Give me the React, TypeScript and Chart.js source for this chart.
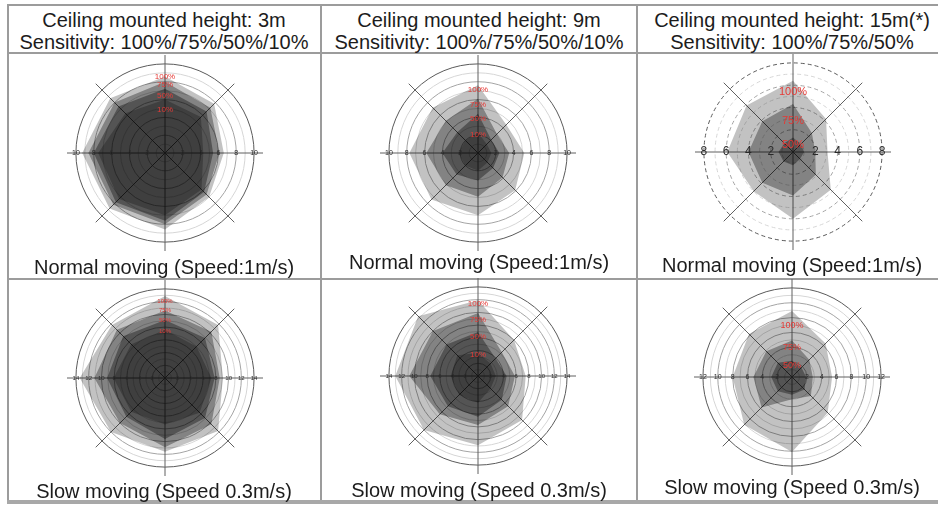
import React, { useEffect, useRef } from "react";
import { Chart, registerables } from "chart.js";

Chart.register(...registerables);

// ---- Data ----
const directions = ["N", "NE", "E", "SE", "S", "SW", "W", "NW"];

const headerHeight = ["Ceiling mounted height: 3m", "Ceiling mounted height: 9m", "Ceiling mounted height: 15m(*)"];
const headerSensitivity = ["Sensitivity: 100%/75%/50%/10%", "Sensitivity: 100%/75%/50%/10%", "Sensitivity: 100%/75%/50%"];
const captionNormal = "Normal moving (Speed:1m/s)";
const captionSlow = "Slow moving (Speed 0.3m/s)";

const sensitivity4 = ["100%", "75%", "50%", "10%"];
const sensitivity3 = ["100%", "75%", "50%"];

const ticks10 = [2, 4, 6, 8, 10];
const ticks8 = [2, 4, 6, 8];
const ticks14 = [2, 4, 6, 8, 10, 12, 14];
const ticks12 = [2, 4, 6, 8, 10, 12];

// 3m, normal moving (m), order N, NE, E, SE, S, SW, W, NW
const normal3m_100 = [8.6, 7.8, 6.6, 7.0, 8.6, 8.8, 9.3, 8.7];
const normal3m_75 = [8.0, 7.2, 6.1, 6.6, 8.0, 8.2, 8.6, 8.0];
const normal3m_50 = [7.2, 6.6, 5.4, 6.2, 7.6, 7.8, 8.0, 7.4];
const normal3m_10 = [6.0, 5.7, 4.3, 5.8, 7.0, 7.3, 7.5, 6.3];
const normal3m_labelAt = [8.6, 7.6, 6.4, 4.9];

// 9m, normal moving
const normal9m_100 = [7.6, 4.5, 5.2, 5.9, 7.0, 7.4, 7.7, 7.2];
const normal9m_75 = [6.1, 3.0, 3.5, 3.9, 4.9, 5.1, 5.8, 5.1];
const normal9m_50 = [4.4, 2.1, 2.4, 2.4, 3.1, 3.4, 4.0, 3.3];
const normal9m_10 = [2.3, 1.4, 1.5, 1.5, 2.0, 2.0, 2.2, 2.0];
const normal9m_labelAt = [7.1, 5.4, 3.8, 2.0];

// 15m, normal moving
const normal15m_100 = [6.4, 4.2, 3.1, 4.8, 6.0, 5.0, 5.9, 5.9];
const normal15m_75 = [4.3, 2.4, 2.0, 2.9, 3.9, 3.9, 4.0, 3.9];
const normal15m_50 = [1.3, 1.0, 1.0, 0.9, 1.2, 1.2, 1.3, 1.1];
const normal15m_labelAt = [5.4, 2.8, 0.6];

// 3m, slow moving
const slow3m_100 = [12.9, 11.8, 9.1, 11.8, 11.6, 12.0, 13.4, 11.8];
const slow3m_75 = [10.6, 10.3, 8.6, 10.3, 10.9, 10.0, 11.1, 10.7];
const slow3m_50 = [9.1, 8.9, 7.8, 8.9, 9.6, 8.6, 9.1, 9.3];
const slow3m_10 = [7.6, 7.0, 7.3, 7.7, 7.3, 7.5, 8.1, 7.5];
const slow3m_labelAt = [12.0, 10.6, 9.1, 7.3];

// 9m, slow moving
const slow9m_100 = [11.9, 8.0, 7.5, 9.8, 10.9, 12.0, 13.0, 13.3];
const slow9m_75 = [9.9, 5.3, 5.8, 6.7, 7.7, 8.5, 10.8, 10.0];
const slow9m_50 = [6.9, 3.9, 4.5, 5.3, 6.4, 6.7, 7.5, 7.0];
const slow9m_10 = [3.6, 2.8, 2.8, 2.8, 4.2, 4.2, 4.3, 4.6];
const slow9m_labelAt = [11.4, 8.9, 6.1, 3.4];

// 15m, slow moving
const slow15m_100 = [8.9, 6.4, 5.4, 6.8, 10.1, 9.1, 8.0, 8.2];
const slow15m_75 = [4.9, 3.3, 2.8, 3.6, 3.0, 5.8, 5.2, 4.9];
const slow15m_50 = [2.2, 1.8, 1.9, 2.4, 2.4, 2.7, 2.8, 2.7];
const slow15m_labelAt = [6.9, 4.0, 1.6];

// ---- Styles ----
const FILLS = ["rgba(0,0,0,0.24)", "rgba(0,0,0,0.33)", "rgba(0,0,0,0.36)", "rgba(0,0,0,0.25)"];
const FONT = '"Liberation Sans", Arial, Helvetica, sans-serif';
const LINE = "#9c9c9c";
const CANVAS = 220;

type PanelProps = {
  cx: number;
  cy: number;
  series: number[][];
  names: string[];
  labelAt: number[];
  ticks: number[];
  tickFont: number;
  pctFont: number;
  dashed?: boolean;
};

function RadarPanel(props: PanelProps) {
  const ref = useRef<HTMLCanvasElement | null>(null);
  useEffect(() => {
    if (!ref.current) return;
    const { series, names, labelAt, ticks, tickFont, pctFont, dashed } = props;
    const maxTick = ticks[ticks.length - 1];
    const circles: number[] = [];
    for (let v = 0; v <= maxTick; v++) circles.push(v);

    const overlay = {
      id: "overlay",
      afterDatasetsDraw(chart: any) {
        const r = chart.scales.r;
        const ctx = chart.ctx;
        ctx.save();
        ctx.textAlign = "center";
        ctx.textBaseline = "middle";
        ctx.font = `${tickFont}px ${FONT}`;
        ctx.fillStyle = "#2a2a2a";
        for (const v of ticks) {
          for (const idx of [2, 6]) {
            const p = r.getPointPositionForValue(idx, v);
            ctx.fillText(String(v), p.x, p.y);
          }
        }
        ctx.font = `${pctFont}px ${FONT}`;
        ctx.fillStyle = "#e53935";
        names.forEach((nm, i) => {
          const p = r.getPointPositionForValue(0, labelAt[i]);
          ctx.fillText(nm, p.x, p.y);
        });
        ctx.restore();
      },
    };

    const chart = new Chart(ref.current, {
      type: "radar",
      data: {
        labels: directions,
        datasets: series.map((s, i) => ({
          label: names[i],
          data: s,
          backgroundColor: FILLS[i],
          borderWidth: 0,
          pointRadius: 0,
          fill: true,
        })),
      },
      options: {
        responsive: false,
        animation: false,
        devicePixelRatio: 1,
        layout: { padding: 12 },
        plugins: { legend: { display: false }, tooltip: { enabled: false } },
        scales: {
          r: {
            min: 0,
            max: maxTick * 1.1,
            afterBuildTicks: (scale: any) => {
              scale.ticks = circles.map((v) => ({ value: v }));
            },
            ticks: { display: false },
            pointLabels: { display: false },
            angleLines: { display: true, color: "#606060", lineWidth: 1 },
            grid: {
              circular: true,
              lineWidth: 1,
              color: (c: any) => {
                const v = c.tick ? c.tick.value : 0;
                if (v === maxTick) return "#5a5a5a";
                return v % 2 === 0 ? "#a4a4a4" : "#d6d6d6";
              },
            },
            border: dashed ? { dash: [4, 3] } : {},
          },
        },
      } as any,
      plugins: [overlay],
    });
    return () => chart.destroy();
  }, []);
  return (
    <canvas
      ref={ref}
      width={CANVAS}
      height={CANVAS}
      style={{ position: "absolute", left: props.cx - CANVAS / 2, top: props.cy - CANVAS / 2, width: CANVAS, height: CANVAS }}
    />
  );
}

function Text({ x, y, children }: { x: number; y: number; children: React.ReactNode }) {
  return (
    <div
      style={{
        position: "absolute",
        left: x - 170,
        top: y - 11,
        width: 340,
        height: 22,
        lineHeight: "22px",
        fontSize: 20,
        textAlign: "center",
        whiteSpace: "nowrap",
      }}
    >
      {children}
    </div>
  );
}

function Rule({ x, y, w, h, c }: { x: number; y: number; w: number; h: number; c?: string }) {
  return <div style={{ position: "absolute", left: x, top: y, width: w, height: h, background: c || LINE }} />;
}

export default function App() {
  const colX = [164, 479, 792];
  return (
    <div
      style={{
        position: "absolute",
        left: 0,
        top: 0,
        width: 938,
        height: 506,
        background: "#fff",
        overflow: "hidden",
        fontFamily: FONT,
        color: "#1c1c1c",
      }}
    >
      {/* table rules */}
      <Rule x={7} y={4} w={940} h={2} />
      <Rule x={7} y={4} w={2} h={498} />
      <Rule x={320} y={4} w={2} h={498} />
      <Rule x={636} y={4} w={2} h={498} />
      <Rule x={7} y={52} w={940} h={1.5} />
      <Rule x={7} y={278} w={940} h={1.5} />
      <Rule x={7} y={500} w={940} h={4} c="#a8a8a8" />

      {headerHeight.map((t, i) => (
        <Text key={"h" + i} x={colX[i]} y={20}>{t}</Text>
      ))}
      {headerSensitivity.map((t, i) => (
        <Text key={"s" + i} x={colX[i]} y={42}>{t}</Text>
      ))}

      <RadarPanel cx={165} cy={153} series={[normal3m_100, normal3m_75, normal3m_50, normal3m_10]} names={sensitivity4} labelAt={normal3m_labelAt} ticks={ticks10} tickFont={7} pctFont={8} />
      <RadarPanel cx={478} cy={153} series={[normal9m_100, normal9m_75, normal9m_50, normal9m_10]} names={sensitivity4} labelAt={normal9m_labelAt} ticks={ticks10} tickFont={7} pctFont={8} />
      <RadarPanel cx={793} cy={152} series={[normal15m_100, normal15m_75, normal15m_50]} names={sensitivity3} labelAt={normal15m_labelAt} ticks={ticks8} tickFont={12} pctFont={11} dashed />
      <RadarPanel cx={165} cy={378} series={[slow3m_100, slow3m_75, slow3m_50, slow3m_10]} names={sensitivity4} labelAt={slow3m_labelAt} ticks={ticks14} tickFont={6} pctFont={6} />
      <RadarPanel cx={478} cy={376} series={[slow9m_100, slow9m_75, slow9m_50, slow9m_10]} names={sensitivity4} labelAt={slow9m_labelAt} ticks={ticks14} tickFont={6} pctFont={8} />
      <RadarPanel cx={792} cy={377} series={[slow15m_100, slow15m_75, slow15m_50]} names={sensitivity3} labelAt={slow15m_labelAt} ticks={ticks12} tickFont={7} pctFont={9} />

      <Text x={colX[0]} y={267}>{captionNormal}</Text>
      <Text x={colX[1]} y={262}>{captionNormal}</Text>
      <Text x={colX[2]} y={265}>{captionNormal}</Text>
      <Text x={colX[0]} y={491}>{captionSlow}</Text>
      <Text x={colX[1]} y={490}>{captionSlow}</Text>
      <Text x={colX[2]} y={487}>{captionSlow}</Text>
    </div>
  );
}
